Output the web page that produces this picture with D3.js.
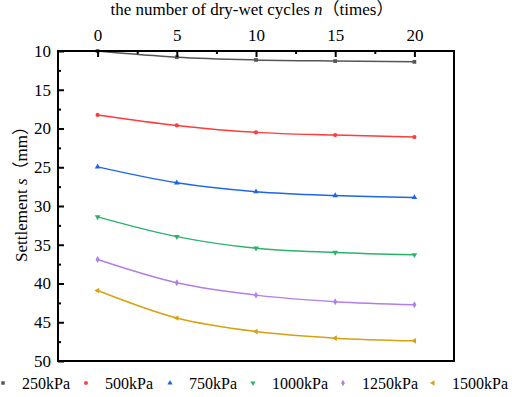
<!DOCTYPE html>
<html>
<head>
<meta charset="utf-8">
<script src="https://cdn.jsdelivr.net/npm/d3@7"></script>
<style>
  body { margin: 0; background: #fff; }
  svg text { font-family: "Liberation Serif", "Noto Sans CJK SC", serif; }
</style>
</head>
<body>
<svg id="chart" width="512" height="397"></svg>
<script>
// data
const cycles = [0, 5, 10, 15, 20];
const loads = ["250kPa", "500kPa", "750kPa", "1000kPa", "1250kPa", "1500kPa"];
const s250 = [10.0, 10.8, 11.15, 11.3, 11.4];
const s500 = [18.25, 19.6, 20.5, 20.85, 21.1];
const s750 = [24.95, 27.0, 28.15, 28.65, 28.9];
const s1000 = [31.4, 33.95, 35.45, 36.0, 36.3];
const s1250 = [36.9, 39.9, 41.5, 42.35, 42.75];
const s1500 = [40.9, 44.45, 46.2, 47.05, 47.4];
const colors = ["#555555", "#ff3b3b", "#1f66e6", "#2bb36b", "#b27ee8", "#d9a00f"];
const symbols = [d3.symbolSquare, d3.symbolCircle, "up", "down", d3.symbolDiamond, "left"];

const series = [s250, s500, s750, s1000, s1250, s1500];

const FONT = '"Liberation Serif", "Noto Sans CJK SC", serif';

const margin = {top: 51, left: 58, right: 58, bottom: 36},
    width = 512 - margin.left - margin.right,
    height = 397 - margin.top - margin.bottom;

const svg = d3.select("#chart");
const g = svg.append("g")
    .attr("transform", "translate(" + margin.left + "," + margin.top + ")");

const x = d3.scaleLinear().domain([-2.5, 22.5]).range([0, width]);
const y = d3.scaleLinear().domain([10, 50]).range([0, height]);

// marker paths
function marker(kind, size) {
    if (kind === "up" || kind === "down" || kind === "left")
        return d3.symbol(d3.symbolTriangle, size)();
    return d3.symbol(kind, size)();
}
function markerRot(kind) {
    if (kind === "down") return 180;
    if (kind === "left") return -90;
    return 0;
}

// curves
const line = d3.line()
    .x((d, i) => x(cycles[i]))
    .y(d => y(d))
    .curve(d3.curveMonotoneX);

series.forEach((vals, k) => {
    g.append("path")
        .attr("d", line(vals))
        .attr("fill", "none")
        .attr("stroke", colors[k])
        .attr("stroke-width", 1.5);
    g.selectAll(null)
        .data(vals)
        .join("path")
        .attr("d", marker(symbols[k], 14))
        .attr("transform", (d, i) => `translate(${x(cycles[i])},${y(d)}) rotate(${markerRot(symbols[k])})`)
        .attr("fill", colors[k]);
});

// axes: top (x) and left (y), ticks inside
const xAxis = d3.axisTop(x).tickValues(cycles).tickSize(-6).tickPadding(10);
const xMinor = d3.axisTop(x).tickValues([2.5, 7.5, 12.5, 17.5]).tickSize(-3).tickFormat("");
const yAxis = d3.axisLeft(y).tickValues(d3.range(10, 51, 5)).tickSize(-6).tickPadding(7);
const yMinor = d3.axisLeft(y).tickValues(d3.range(12.5, 50, 5)).tickSize(-3).tickFormat("");

function styleAxis(sel) {
    sel.attr("font-family", FONT);
    sel.select(".domain").remove();
    sel.selectAll("line").attr("stroke", "#000").attr("stroke-width", 2);
    sel.selectAll("text")
        .attr("font-size", 17)
        .style("font-family", FONT)
        .attr("fill", "#000");
}

g.append("g").call(xAxis).call(styleAxis);
g.append("g").call(xMinor).call(styleAxis);
g.append("g").call(yAxis).call(styleAxis);
g.append("g").call(yMinor).call(styleAxis);

// frame
g.append("rect")
    .attr("width", width)
    .attr("height", height)
    .attr("fill", "none")
    .attr("stroke", "#000")
    .attr("stroke-width", 2);

// axis titles
const title = svg.append("text")
    .attr("x", 252)
    .attr("y", 15)
    .attr("text-anchor", "middle")
    .attr("font-size", 17)
    .style("font-family", FONT);
title.append("tspan").text("the number of dry-wet cycles ");
title.append("tspan").attr("font-style", "italic").text("n");
title.append("tspan").text("（times）");

const ylab = svg.append("text")
    .attr("transform", "translate(27,190) rotate(-90)")
    .attr("text-anchor", "middle")
    .attr("font-size", 17)
    .style("font-family", FONT);
ylab.append("tspan").text("Settlement ");
ylab.append("tspan").attr("font-style", "italic").text("s");
ylab.append("tspan").text("（mm）");

// legend
const legX = [3, 86, 170, 253, 343, 433];
const leg = svg.append("g").attr("transform", "translate(0,383)");
loads.forEach((name, k) => {
    leg.append("path")
        .attr("d", marker(symbols[k], 12))
        .attr("transform", `translate(${legX[k]},0) rotate(${markerRot(symbols[k])})`)
        .attr("fill", colors[k]);
    leg.append("text")
        .attr("x", legX[k] + 19)
        .attr("y", 6)
        .attr("font-size", 16)
        .style("font-family", FONT)
        .text(name);
});
</script>
</body>
</html>
